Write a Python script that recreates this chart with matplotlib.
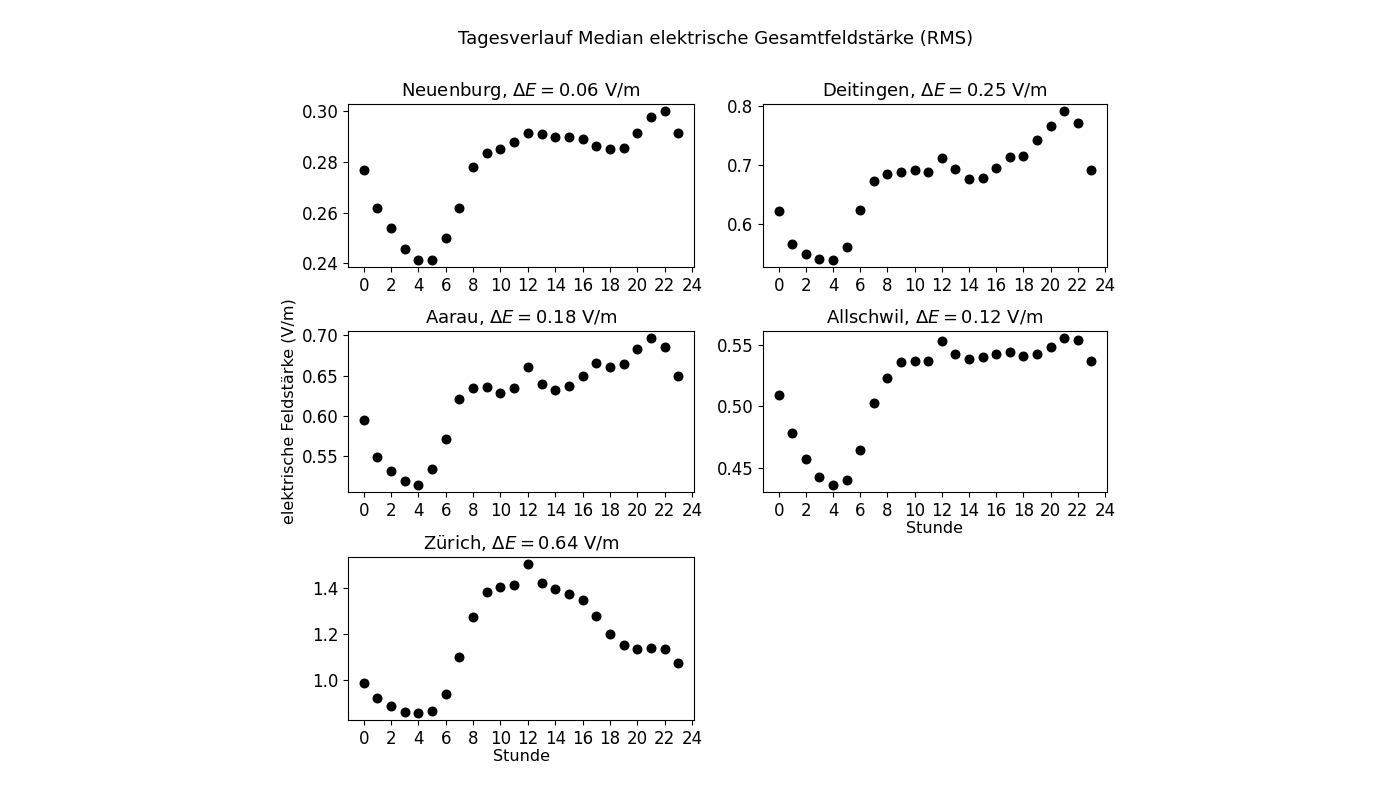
import numpy as np
import matplotlib
matplotlib.use("Agg")
import matplotlib.pyplot as plt

# -----------------------------
# Daten (Median pro Stunde, V/m)
# -----------------------------
stunden = list(range(24))

neuenburg = [0.277, 0.262, 0.254, 0.2455, 0.2415, 0.2415, 0.250, 0.262, 0.278, 0.2835, 0.285, 0.288,
             0.2915, 0.291, 0.290, 0.290, 0.289, 0.2865, 0.285, 0.2855, 0.2915, 0.298, 0.300, 0.2915]
deitingen = [0.622, 0.566, 0.549, 0.541, 0.540, 0.561, 0.624, 0.672, 0.685, 0.687, 0.691, 0.688,
             0.711, 0.693, 0.676, 0.678, 0.694, 0.713, 0.714, 0.741, 0.765, 0.790, 0.770, 0.692]
aarau = [0.595, 0.549, 0.532, 0.519, 0.515, 0.534, 0.572, 0.621, 0.635, 0.636, 0.629, 0.634,
         0.660, 0.640, 0.632, 0.637, 0.650, 0.666, 0.660, 0.664, 0.683, 0.696, 0.685, 0.650]
allschwil = [0.509, 0.478, 0.457, 0.443, 0.4365, 0.440, 0.465, 0.503, 0.523, 0.536, 0.537, 0.537,
             0.553, 0.542, 0.538, 0.540, 0.542, 0.544, 0.541, 0.542, 0.548, 0.555, 0.554, 0.537]
zuerich = [0.985, 0.922, 0.886, 0.862, 0.858, 0.867, 0.940, 1.100, 1.273, 1.380, 1.402, 1.410,
           1.500, 1.418, 1.393, 1.372, 1.345, 1.275, 1.197, 1.150, 1.135, 1.138, 1.132, 1.072]

orte = ["Neuenburg", "Deitingen", "Aarau", "Allschwil", "Zürich"]
werte = [neuenburg, deitingen, aarau, allschwil, zuerich]
delta_e = ["0.06", "0.25", "0.18", "0.12", "0.64"]

# -----------------------------
# Figur & Achsen
# -----------------------------
fig = plt.figure(figsize=(14, 7.87), dpi=100)

# (links, unten, breite, hoehe) in Figurenkoordinaten
positionen = [
    (0.2486, 0.6607, 0.2471, 0.2071),
    (0.5450, 0.6607, 0.2457, 0.2071),
    (0.2486, 0.3748, 0.2471, 0.2046),
    (0.5450, 0.3748, 0.2457, 0.2046),
    (0.2486, 0.0851, 0.2471, 0.2071),
]

for ort, y, de, pos in zip(orte, werte, delta_e, positionen):
    ax = fig.add_axes(pos)
    ax.scatter(stunden, y, color="black", s=38, zorder=3)
    ax.set_xticks(range(0, 25, 2))
    ax.tick_params(labelsize=12)
    ax.set_title(f"{ort}, $\\Delta E = {de}$ V/m", fontsize=13)
    if ort == "Aarau":
        ax.set_ylabel("elektrische Feldstärke (V/m)", fontsize=11.5, labelpad=4)
    if ort in ("Allschwil", "Zürich"):
        ax.set_xlabel("Stunde", fontsize=11.5, labelpad=1)

fig.suptitle("Tagesverlauf Median elektrische Gesamtfeldstärke (RMS)", fontsize=13,
             x=0.511, y=0.962)

fig.savefig("out.png", dpi=100)
